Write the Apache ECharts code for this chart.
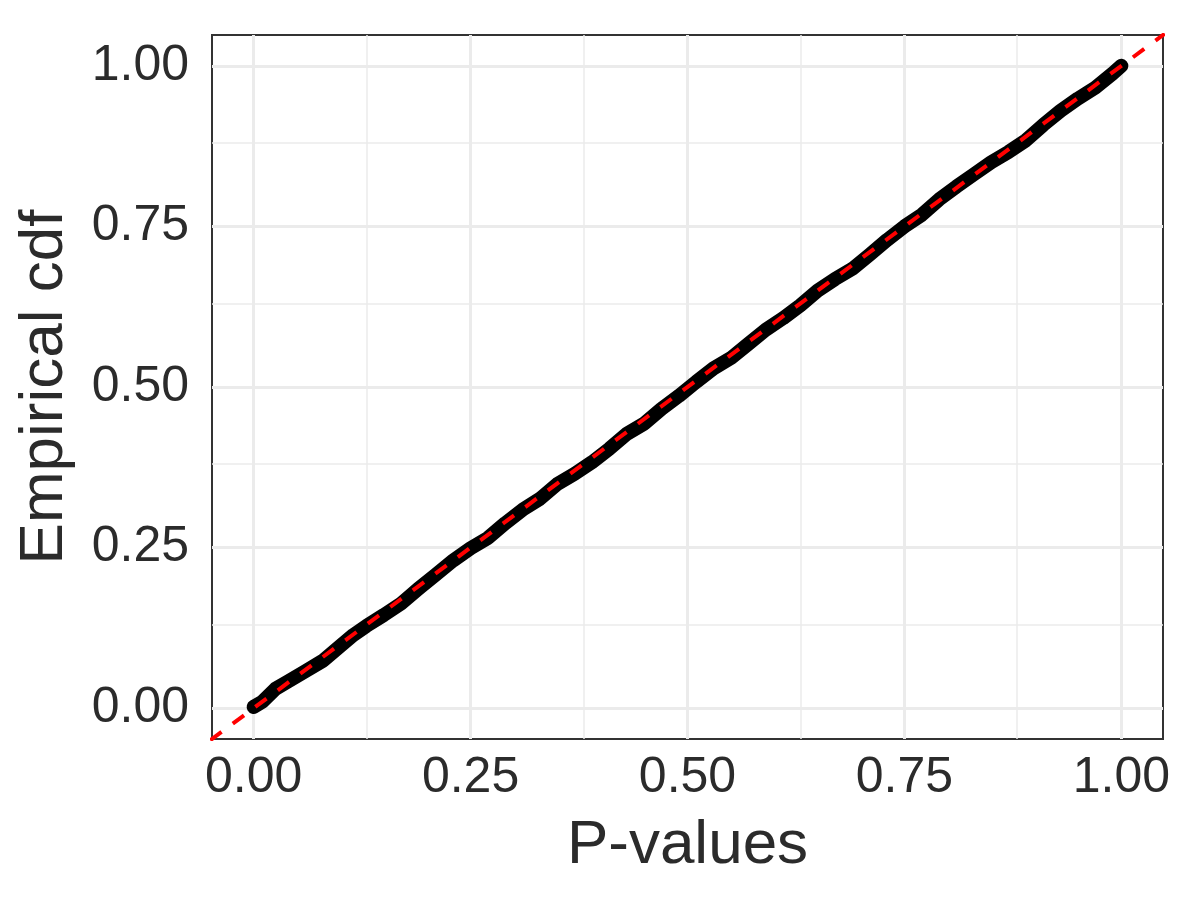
<!DOCTYPE html>
<html>
<head>
<meta charset="utf-8">
<script src="https://cdn.jsdelivr.net/npm/echarts@6/dist/echarts.min.js"></script>
<style>
  html, body { margin: 0; padding: 0; background: #fff; }
  #ecdfChart { width: 1200px; height: 900px; }
</style>
</head>
<body>
<div id="ecdfChart"></div>
<script>
  // empirical cdf of the p-values
  const pValues = [0, 0.01, 0.025, 0.04, 0.06, 0.08, 0.1, 0.115, 0.13, 0.15, 0.17, 0.19, 0.21, 0.23, 0.25,
    0.27, 0.29, 0.31, 0.33, 0.35, 0.37, 0.39, 0.41, 0.43, 0.45, 0.47, 0.49, 0.51, 0.53, 0.55, 0.57, 0.59,
    0.61, 0.63, 0.65, 0.67, 0.69, 0.71, 0.73, 0.75, 0.77, 0.79, 0.81, 0.83, 0.85, 0.87, 0.89, 0.91, 0.93,
    0.95, 0.97, 0.99, 1.0]
  const ecdf = [0.002, 0.010, 0.030, 0.042, 0.058, 0.074, 0.097, 0.114, 0.128, 0.145, 0.163, 0.186, 0.208, 0.230, 0.249,
    0.265, 0.288, 0.309, 0.326, 0.349, 0.365, 0.383, 0.404, 0.427, 0.443, 0.466, 0.486, 0.508, 0.529, 0.545, 0.567, 0.589,
    0.607, 0.627, 0.650, 0.668, 0.684, 0.706, 0.729, 0.750, 0.768, 0.792, 0.812, 0.831, 0.850, 0.866, 0.884, 0.908, 0.930,
    0.949, 0.966, 0.988, 1.0]
  // reference line y = x across the whole panel
  const refLine = [-0.05, 1.05]
  const majorTicks = [0, 0.25, 0.5, 0.75, 1]
  const minorTicks = [0.125, 0.375, 0.625, 0.875]

  const textColor = '#2b2b2b'
  const font = 'Liberation Sans, Arial, Helvetica, sans-serif'

  let gridLines = []
  majorTicks.forEach(v => {
    gridLines.push({ xAxis: v, lineStyle: { width: 3 } })
    gridLines.push({ yAxis: v, lineStyle: { width: 3 } })
  })
  minorTicks.forEach(v => {
    gridLines.push({ xAxis: v, lineStyle: { width: 1.5 } })
    gridLines.push({ yAxis: v, lineStyle: { width: 1.5 } })
  })

  let axisCommon = {
    type: 'value',
    min: -0.048,
    max: 1.048,
    nameLocation: 'middle',
    nameTextStyle: { fontSize: 62, color: textColor, fontFamily: font },
    axisLine: { show: false },
    axisTick: {
      show: true,
      length: 12,
      customValues: majorTicks,
      lineStyle: { color: '#333333', width: 3 }
    },
    axisLabel: {
      customValues: majorTicks,
      fontSize: 50,
      color: textColor,
      fontFamily: font,
      formatter: v => v.toFixed(2)
    },
    splitLine: { show: false }
  }

  let option = {
    animation: false,
    backgroundColor: '#ffffff',
    grid: {
      left: 212,
      right: 37,
      top: 35,
      bottom: 161,
      show: true,
      borderColor: '#333333',
      borderWidth: 2,
      backgroundColor: '#ffffff'
    },
    xAxis: Object.assign({}, axisCommon, {
      name: 'P-values',
      nameGap: 76,
      axisLabel: Object.assign({}, axisCommon.axisLabel, { margin: 14 })
    }),
    yAxis: Object.assign({}, axisCommon, {
      name: 'Empirical cdf',
      nameGap: 136,
      axisLabel: Object.assign({}, axisCommon.axisLabel, { margin: 23 })
    }),
    series: [
      {
        name: 'grid',
        type: 'line',
        data: [],
        z: 1,
        markLine: {
          z: 1,
          silent: true,
          symbol: ['none', 'none'],
          label: { show: false },
          lineStyle: { color: '#EBEBEB', type: 'solid' },
          emphasis: { disabled: true },
          data: gridLines
        }
      },
      {
        name: 'ecdf',
        type: 'line',
        z: 2,
        showSymbol: false,
        data: pValues.map((x, i) => [x, ecdf[i]]),
        lineStyle: { color: '#000000', width: 14, cap: 'round', join: 'round' }
      },
      {
        name: 'uniform',
        type: 'line',
        z: 3,
        showSymbol: false,
        data: refLine.map(v => [v, v]),
        lineStyle: { color: '#FF0000', width: 4, type: [14, 14] }
      }
    ]
  }

  let myChart = echarts.init(document.getElementById('ecdfChart'))
  myChart.setOption(option)
</script>
</body>
</html>
